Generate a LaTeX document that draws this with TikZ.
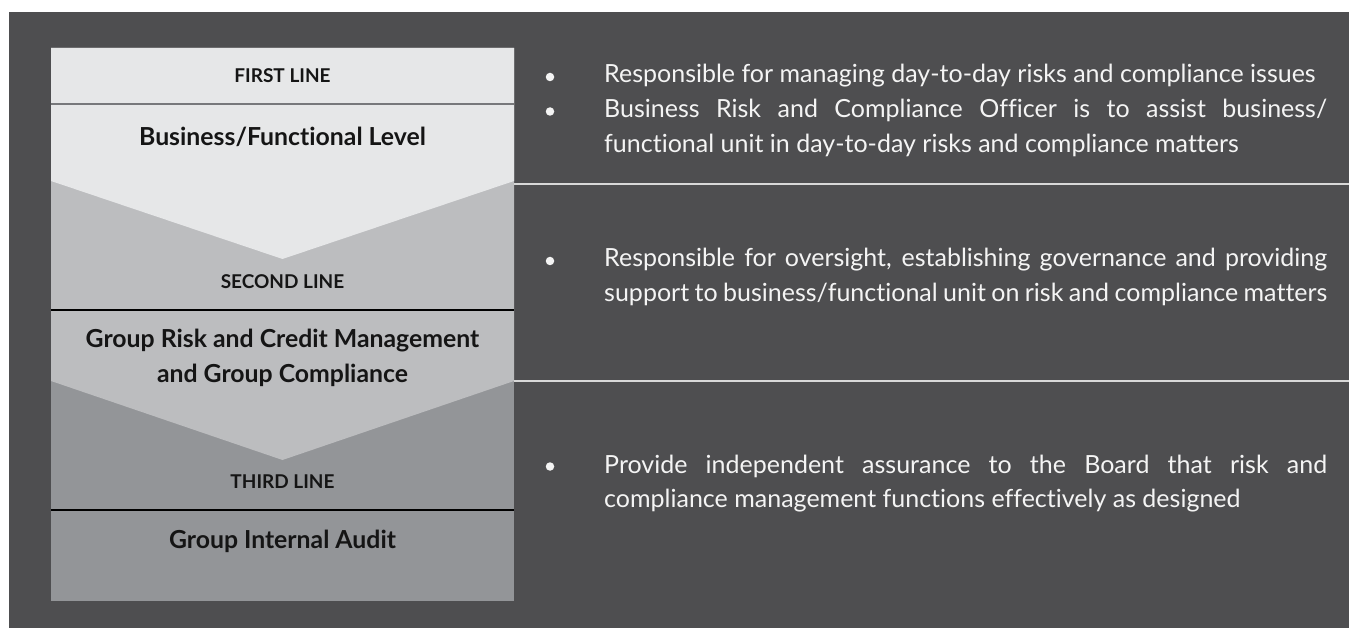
\documentclass[tikz,border=0pt]{standalone}
\usepackage{fontspec}
\setmainfont{Lato}[Ligatures=NoCommon]
\definecolor{bgdark}{HTML}{4E4E50}
\definecolor{lightfill}{HTML}{E6E7E8}
\definecolor{midfill}{HTML}{BCBDBF}
\definecolor{darkfill}{HTML}{939598}
\definecolor{divgray}{HTML}{77787B}
\definecolor{txtdark}{HTML}{151515}
\definecolor{txtlight}{HTML}{F4F4F4}
\definecolor{rulelight}{HTML}{D8D8D8}
\begin{document}
\begin{tikzpicture}[x=1pt,y=-1pt,
  linelabel/.style={font=\fontsize{19}{22}\selectfont\bfseries, text=txtdark, inner sep=0pt},
  unitlabel/.style={font=\fontsize{24.8}{35}\selectfont\bfseries, text=txtdark, align=center, inner sep=0pt},
  itemtext/.style={font=\fontsize{25}{34.5}\selectfont, text=txtlight, text width=723pt, align=justify, inner sep=0pt, anchor=base west},
  bulletdot/.style={circle, fill=txtlight, inner sep=0pt, minimum size=8.5pt},
  sepline/.style={draw=rulelight, line width=1.6pt}
]
\useasboundingbox (0,0) rectangle (1349,628);
\fill[white] (0,0) rectangle (1349,628);
\fill[bgdark] (9,12) rectangle (1349,628);
% left panel
\fill[darkfill] (51,48) rectangle (514,601);
\fill[midfill] (51,48) -- (514,48) -- (514,381) -- (282.5,460) -- (51,381) -- cycle;
\fill[lightfill] (51,48) -- (514,48) -- (514,181) -- (282.5,259) -- (51,181) -- cycle;
\coordinate (pl1) at (51,104); \coordinate (pr1) at (514,104);
\coordinate (pl2) at (51,310); \coordinate (pr2) at (514,310);
\coordinate (pl3) at (51,510); \coordinate (pr3) at (514,510);
\draw[divgray, line width=1.8pt] (pl1) -- (pr1);
\draw[black, line width=1.1pt] (pl2) -- (pr2);
\draw[black, line width=1.1pt] (pl3) -- (pr3);
% labels
\node[linelabel] (first) at (282.5,76) {FIRST LINE};
\node[unitlabel] (unit1) at (282.5,137) {Business/Functional Level};
\node[linelabel] (second) at (282.5,282) {SECOND LINE};
\node[unitlabel] (unit2) at (282.5,358) {Group Risk and Credit Management\\and Group Compliance};
\node[linelabel] (third) at (282.5,482) {THIRD LINE};
\node[unitlabel] (unit3) at (282.5,541) {Group Internal Audit};
% right separators
\coordinate (sl1) at (514,184); \coordinate (sr1) at (1349,184);
\coordinate (sl2) at (514,381); \coordinate (sr2) at (1349,381);
\draw[sepline] (sl1) -- (sr1);
\draw[sepline] (sl2) -- (sr2);
% bullets and text
\node[bulletdot] (b1) at (550,77) {};
\node[itemtext] (t1) at (604,83) {Responsible for managing day-to-day risks and compliance issues};
\node[bulletdot] (b2) at (550,111.5) {};
\node[itemtext] (t2) at (604,118) {Business Risk and Compliance Officer is to assist business/\linebreak functional unit in day-to-day risks and compliance matters};
\node[bulletdot] (b3) at (550,261) {};
\node[itemtext] (t3) at (604,267) {Responsible for oversight, establishing governance and providing\linebreak support to business/functional unit on risk and compliance matters};
\node[bulletdot] (b4) at (550,466.5) {};
\node[itemtext] (t4) at (604,473) {Provide independent assurance to the Board that risk and\linebreak compliance management functions effectively as designed};
\end{tikzpicture}
\end{document}
